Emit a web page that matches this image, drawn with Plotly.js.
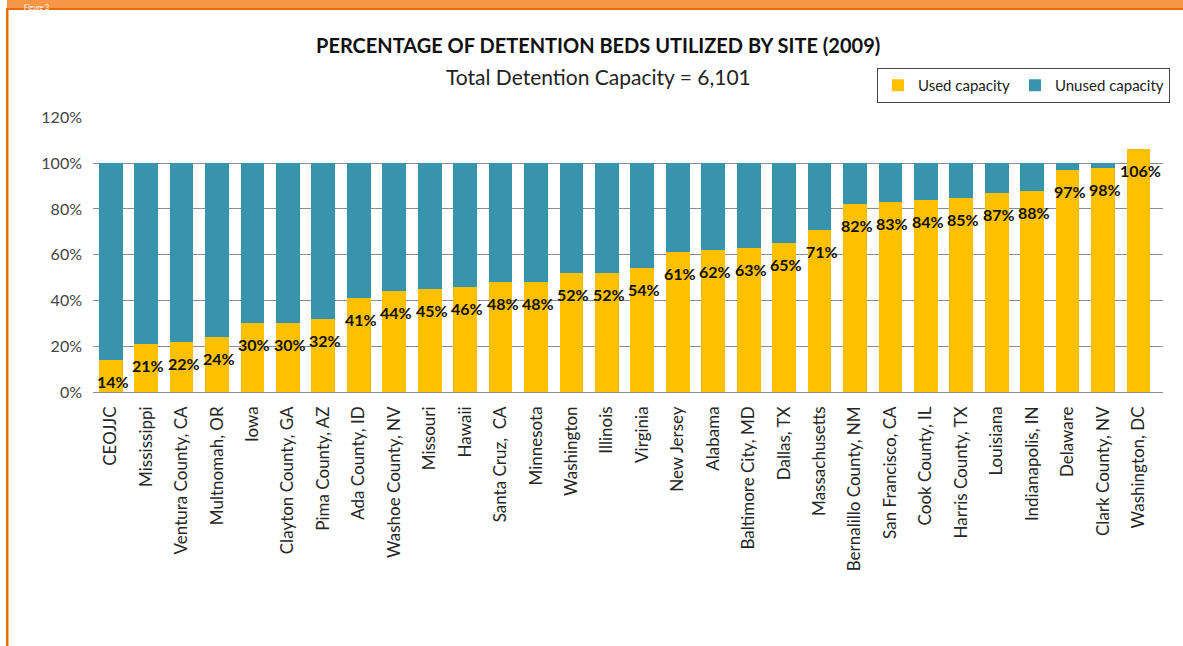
<!DOCTYPE html>
<html>
<head>
<meta charset="utf-8">
<script src="https://cdn.plot.ly/plotly-3.0.1.min.js"></script>
<style>html,body{margin:0;padding:0;background:#fff;}#chart{width:1183px;height:646px;}</style>
</head>
<body>
<div id="chart"></div>
<script>
const sites = ["CEOJJC","Mississippi","Ventura County, CA","Multnomah, OR","Iowa","Clayton County, GA","Pima County, AZ","Ada County, ID","Washoe County, NV","Missouri","Hawaii","Santa Cruz,  CA","Minnesota","Washington","Illinois","Virginia","New Jersey","Alabama","Baltimore City, MD","Dallas, TX","Massachusetts","Bernalillo County, NM","San Francisco, CA","Cook County, IL","Harris County, TX","Louisiana","Indianapolis, IN","Delaware","Clark County, NV","Washington, DC"];
const usedPct = [14,21,22,24,30,30,32,41,44,45,46,48,48,52,52,54,61,62,63,65,71,82,83,84,85,87,88,97,98,106];
const unusedPct = [86,79,78,76,70,70,68,59,56,55,54,52,52,48,48,46,39,38,37,35,29,18,17,16,15,13,12,3,2,0];
const yTicks = [0,20,40,60,80,100,120];
const yTickLabels = ["0%","20%","40%","60%","80%","100%","120%"];

const W = 1183, H = 646;
const m = {l:93, r:20, t:117, b:254, autoexpand:false};
const pw = W - m.l - m.r, ph = H - m.t - m.b;
const px = x => (x - m.l) / pw;
const py = y => (H - m.b - y) / ph;

const traces = [
  {type:'bar', name:'Used capacity', x:sites, y:usedPct, marker:{color:'#FFC000'}, hoverinfo:'x+y'},
  {type:'bar', name:'Unused capacity', x:sites, y:unusedPct, marker:{color:'#3794AC'}, hoverinfo:'x+y'}
];

const annotations = sites.map((s,i) => ({
  x:s, y:usedPct[i], xref:'x', yref:'y', text:usedPct[i]+'%', showarrow:false,
  yanchor:'top', yshift:-10, xshift:2,
  font:{family:'Lato, sans-serif', size:16, color:'#111', weight:'bold'}
}));
annotations.push({
  xref:'paper', yref:'paper', x:px(598), y:py(45), xanchor:'center', yanchor:'middle',
  text:'<b>PERCENTAGE OF DETENTION BEDS UTILIZED BY SITE (2009)</b>', showarrow:false,
  font:{family:'Lato, sans-serif', size:20, color:'#111'}
});
annotations.push({
  xref:'paper', yref:'paper', x:px(598), y:py(77), xanchor:'center', yanchor:'middle',
  text:'Total Detention Capacity = 6,101', showarrow:false,
  font:{family:'Lato, sans-serif', size:21, color:'#222'}
});
annotations.push({
  xref:'paper', yref:'paper', x:px(22), y:py(0.5), xanchor:'left', yanchor:'top',
  text:'Figure 3', showarrow:false,
  font:{family:'Lato, sans-serif', size:7, color:'#ffffff'}
});

const shapes = [
  {type:'rect', xref:'paper', yref:'paper', x0:px(7), x1:px(1183), y0:py(8), y1:py(0), fillcolor:'#F79646', line:{width:0}, layer:'below'},
  {type:'rect', xref:'paper', yref:'paper', x0:px(6), x1:px(1183), y0:py(10), y1:py(8), fillcolor:'#E46C0A', line:{width:0}, layer:'below'},
  {type:'rect', xref:'paper', yref:'paper', x0:px(6), x1:px(8.5), y0:py(646), y1:py(8), fillcolor:'#E46C0A', line:{width:0}, layer:'below'}
];

const layout = {
  width:W, height:H, margin:m, barmode:'stack', bargap:0.33,
  paper_bgcolor:'#fff', plot_bgcolor:'#fff', showlegend:true,
  font:{family:'Lato, sans-serif'},
  xaxis:{type:'category', tickangle:-90, tickfont:{family:'Lato, sans-serif', size:17, color:'#262626'},
         showgrid:false, showline:false, ticks:'', ticklabelstandoff:10, automargin:false},
  yaxis:{range:[0,120.2], tickvals:yTicks, ticktext:yTickLabels, showgrid:true, gridcolor:'#8c8c8c', gridwidth:1,
         zeroline:true, zerolinecolor:'#8c8c8c', zerolinewidth:1, showline:false, ticks:'', ticklen:0,
         ticklabelstandoff:10,
         tickfont:{family:'Lato, sans-serif', size:16, color:'#444'}, automargin:false},
  legend:{orientation:'h', x:px(1170), y:py(68), xanchor:'right', yanchor:'top', bgcolor:'#fff',
          bordercolor:'#444', borderwidth:1, itemwidth:30, traceorder:'normal',
          font:{family:'Lato, sans-serif', size:15, color:'#222'}},
  annotations:annotations, shapes:shapes
};

Plotly.newPlot('chart', traces, layout, {staticPlot:true, displayModeBar:false});
</script>
</body>
</html>
